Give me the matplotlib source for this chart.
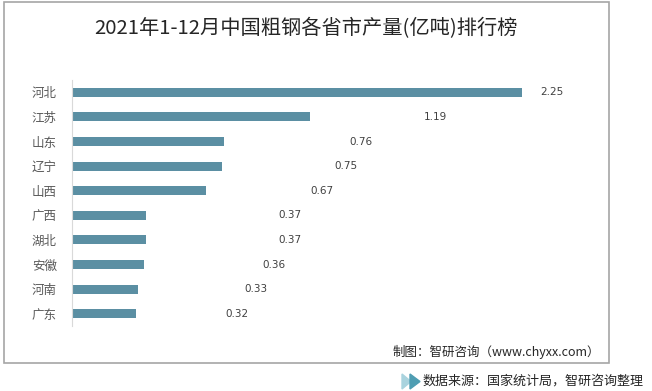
import matplotlib.pyplot as plt
from matplotlib.patches import Rectangle, Polygon

plt.rcParams['font.family'] = ['Noto Sans CJK SC', 'DejaVu Sans']

# data
provinces = ['河北', '江苏', '山东', '辽宁', '山西', '广西', '湖北', '安徽', '河南', '广东']
output = [2.25, 1.19, 0.76, 0.75, 0.67, 0.37, 0.37, 0.36, 0.33, 0.32]
value_labels = ['2.25', '1.19', '0.76', '0.75', '0.67', '0.37', '0.37', '0.36', '0.33', '0.32']
# where the original chart put its value labels (x, in data units)
label_x = [2.40, 1.815, 1.445, 1.37, 1.25, 1.09, 1.09, 1.01, 0.918, 0.825]

title = '2021年1-12月中国粗钢各省市产量(亿吨)排行榜'
credit = '制图：智研咨询（www.chyxx.com）'
source = '数据来源：国家统计局，智研咨询整理'

W, H = 652, 391
fig = plt.figure(figsize=(W / 100, H / 100), dpi=100)

# outer frame
fig.patches.append(Rectangle((4 / W, 1 - 363 / H), 605 / W, 361 / H,
                             transform=fig.transFigure, fill=False,
                             edgecolor='#a6a6a6', linewidth=1.2))

ax = fig.add_axes([72 / W, 1 - 326 / H, (600 - 72) / W, (326 - 80) / H])
y = list(range(len(provinces)))
ax.barh(y, output, height=0.37, color='#5b8fa3')
ax.set_ylim(len(provinces) - 0.5, -0.5)
ax.set_xlim(0, (600 - 72) / 200)

for yi, lx, txt in zip(y, label_x, value_labels):
    ax.text(lx, yi, txt, ha='center', va='center', fontsize=7.5,
            color='#404040', family='DejaVu Sans')

ax.set_yticks(y)
ax.set_yticklabels(provinces, fontsize=9, color='#595959')
ax.tick_params(axis='y', length=0, pad=11)
ax.set_xticks([])
for s in ['top', 'right', 'bottom']:
    ax.spines[s].set_visible(False)
ax.spines['left'].set_color('#d9d9d9')

fig.text(306 / W, 1 - 29 / H, title, ha='center', va='center',
         fontsize=14.6, color='#262626')
fig.text(600 / W, 1 - 352 / H, credit, ha='right', va='center',
         fontsize=9, color='#262626')

# source line with two arrow icons
fig.patches.append(Polygon([(402 / W, 1 - 374 / H), (402 / W, 1 - 389 / H), (411 / W, 1 - 381.5 / H)],
                           closed=True, transform=fig.transFigure, color='#a9d3de'))
fig.patches.append(Polygon([(410 / W, 1 - 374 / H), (410 / W, 1 - 389 / H), (420 / W, 1 - 381.5 / H)],
                           closed=True, transform=fig.transFigure, color='#4e9db2'))
fig.text(423 / W, 1 - 381 / H, source, ha='left', va='center',
         fontsize=9.4, color='#262626')

fig.savefig('out.png', dpi=100, facecolor='white')
